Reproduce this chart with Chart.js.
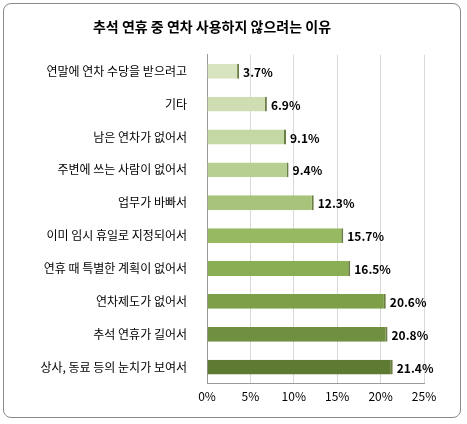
<!DOCTYPE html><html><head><meta charset="utf-8">
<script src="https://cdn.jsdelivr.net/npm/chart.js@4"></script>
<style>html,body{margin:0;padding:0;background:#fff}
#wrap{position:absolute;left:3px;top:3px;width:458px;height:415px;border:1px solid #888;border-radius:8px;box-sizing:border-box}
canvas{position:absolute;left:0;top:0}</style></head><body>
<div id="wrap"></div><canvas id="c" width="467" height="424"></canvas>
<script>
const categories=["연말에 연차 수당을 받으려고","기타","남은 연차가 없어서","주변에 쓰는 사람이 없어서","업무가 바빠서","이미 임시 휴일로 지정되어서","연휴 때 특별한 계획이 없어서","연차제도가 없어서","추석 연휴가 길어서","상사, 동료 등의 눈치가 보여서"];
const values=[3.7,6.9,9.1,9.4,12.3,15.7,16.5,20.6,20.8,21.4];
const colors=["#d8e4c0","#cfdeb2","#c4d8a4","#b7cf90","#a7c47a","#97b962","#8aae54","#7c9f48","#718f40","#5f7a33"];
const titleText="추석 연휴 중 연차 사용하지 않으려는 이유";
const F="'Noto Sans CJK KR', sans-serif";
const labelPlugin={id:'lbl',afterDatasetsDraw(ch){const c=ch.ctx;const m=ch.getDatasetMeta(0);c.save();c.font="bold 12px "+F;c.fillStyle="#000";c.textBaseline="middle";
m.data.forEach((b,i)=>{c.fillText(values[i].toFixed(1)+"%",b.x+4,b.y+1);});c.restore();}};
new Chart(document.getElementById('c'),{type:'bar',data:{labels:categories,datasets:[{data:values,backgroundColor:colors,borderColor:colors.map(()=> "#6b7f45"),borderWidth:{right:2,top:0,bottom:0,left:0},barPercentage:0.45,categoryPercentage:1}]},
options:{indexAxis:'y',responsive:false,animation:false,layout:{padding:{top:12,right:43,left:0,bottom:14}},
plugins:{legend:{display:false},tooltip:{enabled:false},title:{display:true,text:titleText,color:'#000',font:{family:F,size:14,weight:'bold'},padding:{top:6,bottom:20}}},
scales:{x:{min:0,max:25,ticks:{stepSize:5,callback:v=>v+'%',color:'#000',font:{family:F,size:12},padding:6},grid:{color:'#d8d8d8',drawTicks:false},border:{color:'#999'}},
y:{afterFit:s=>{s.width=207;},ticks:{color:'#000',font:{family:F,size:12},padding:12},grid:{display:false},border:{color:'#999'}}}},plugins:[labelPlugin]});
</script></body></html>
